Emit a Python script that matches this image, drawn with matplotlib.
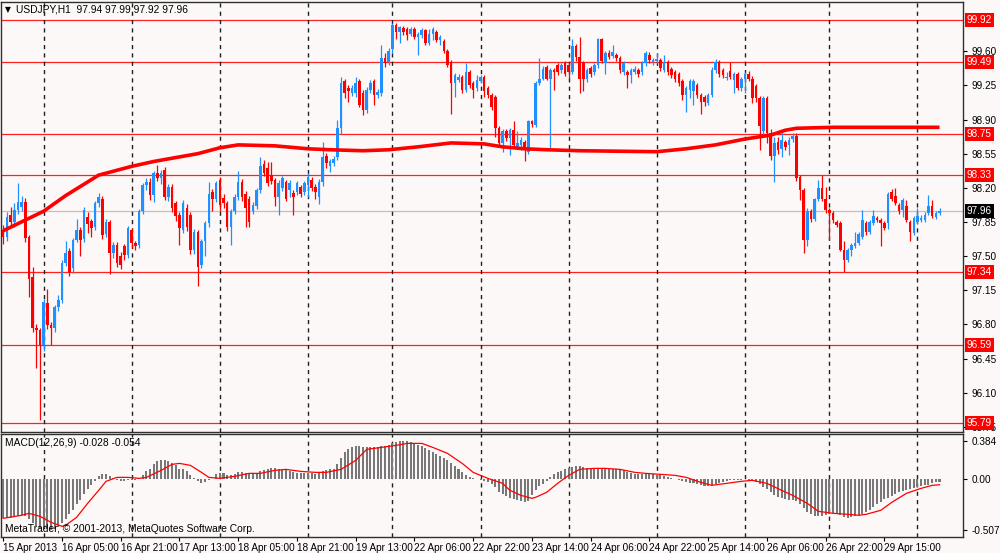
import numpy as np
import matplotlib.pyplot as plt
from matplotlib.transforms import blended_transform_factory, Bbox

plt.rcParams["font.family"] = ["Liberation Sans", "DejaVu Sans"]

# USDJPY H1 candles, bar 0 = 15 Apr 2013 13:00
opens = [
    97.77, 97.70, 97.92, 97.85, 97.97, 98.00, 98.05, 97.70, 97.29, 96.76,
    96.74, 96.59, 97.02, 96.79, 96.76, 96.98, 97.05, 97.43, 97.55, 97.38,
    97.67, 97.77, 97.68, 97.90, 97.86, 97.80, 98.04, 98.09, 97.73, 97.85,
    97.53, 97.61, 97.50, 97.60, 97.51, 97.77, 97.63, 97.61, 97.96, 98.23,
    98.26, 98.13, 98.35, 98.30, 98.38, 98.11, 98.21, 98.04, 97.92, 97.77,
    97.99, 97.92, 97.56, 97.75, 97.41, 97.65, 97.84, 98.16, 98.09, 98.28,
    98.10, 98.04, 97.80, 97.96, 98.11, 98.26, 98.14, 98.09, 97.96, 98.01,
    98.18, 98.44, 98.40, 98.33, 98.28, 98.11, 98.20, 98.26, 98.18, 98.15,
    98.16, 98.21, 98.16, 98.23, 98.28, 98.21, 98.11, 98.26, 98.53, 98.42,
    98.45, 98.52, 98.81, 99.29, 99.22, 99.17, 99.17, 99.29, 99.17, 99.00,
    99.20, 99.29, 99.15, 99.17, 99.53, 99.49, 99.62, 99.87, 99.80, 99.84,
    99.83, 99.78, 99.83, 99.75, 99.77, 99.82, 99.68, 99.78, 99.80, 99.71,
    99.70, 99.60, 99.49, 99.27, 99.30, 99.34, 99.20, 99.39, 99.27, 99.22,
    99.29, 99.34, 99.22, 99.15, 99.13, 98.81, 98.66, 98.78, 98.71, 98.79,
    98.62, 98.64, 98.67, 98.57, 98.88, 98.84, 99.27, 99.32, 99.44, 99.32,
    99.41, 99.46, 99.41, 99.48, 99.46, 99.39, 99.65, 99.54, 99.48, 99.31,
    99.43, 99.39, 99.46, 99.72, 99.48, 99.58, 99.55, 99.56, 99.53, 99.39,
    99.39, 99.36, 99.39, 99.41, 99.39, 99.48, 99.56, 99.49, 99.50, 99.51,
    99.41, 99.49, 99.42, 99.39, 99.37, 99.29, 99.15, 99.20, 99.19, 99.25,
    99.15, 99.13, 99.07, 99.15, 99.41, 99.49, 99.41, 99.33, 99.40, 99.30,
    99.37, 99.22, 99.32, 99.37, 99.32, 99.24, 99.12, 98.78, 99.12, 98.76,
    98.53, 98.67, 98.60, 98.67, 98.64, 98.70, 98.73, 98.31, 98.18, 97.67,
    97.96, 97.88, 98.09, 98.20, 98.09, 97.97, 97.94, 97.85, 97.84, 97.56,
    97.46, 97.56, 97.60, 97.63, 97.70, 97.84, 97.75, 97.84, 97.89, 97.87,
    97.84, 97.84, 98.16, 98.12, 98.02, 97.97, 98.01, 97.85, 97.74, 97.85,
    97.87, 97.87, 97.94, 98.01, 97.90, 97.94,
]
highs = [
    97.82, 97.95, 98.00, 98.04, 98.25, 98.12, 98.10, 97.72, 97.39, 96.80,
    96.76, 97.06, 97.16, 96.83, 97.00, 97.10, 97.46, 97.65, 97.58, 97.69,
    97.88, 97.80, 98.00, 97.95, 97.88, 98.07, 98.15, 98.12, 97.88, 97.87,
    97.64, 97.64, 97.54, 97.62, 97.81, 97.79, 97.66, 97.98, 98.25, 98.30,
    98.30, 98.37, 98.43, 98.38, 98.41, 98.24, 98.24, 98.06, 97.95, 98.08,
    98.03, 97.95, 97.78, 97.77, 97.68, 97.86, 98.26, 98.19, 98.27, 98.31,
    98.14, 98.06, 97.98, 98.14, 98.37, 98.29, 98.17, 98.12, 98.05, 98.20,
    98.52, 98.49, 98.46, 98.46, 98.30, 98.28, 98.32, 98.28, 98.28, 98.18,
    98.27, 98.23, 98.27, 98.35, 98.31, 98.24, 98.29, 98.67, 98.56, 98.50,
    98.53, 98.90, 99.34, 99.32, 99.25, 99.25, 99.34, 99.31, 99.20, 99.23,
    99.30, 99.31, 99.21, 99.66, 99.58, 99.63, 99.89, 99.89, 99.86, 99.86,
    99.85, 99.85, 99.85, 99.80, 99.84, 99.83, 99.83, 99.85, 99.82, 99.77,
    99.72, 99.62, 99.51, 99.38, 99.37, 99.36, 99.48, 99.41, 99.29, 99.36,
    99.36, 99.36, 99.24, 99.17, 99.15, 98.83, 98.80, 98.80, 98.81, 98.88,
    98.78, 98.72, 98.69, 98.90, 98.90, 99.29, 99.53, 99.45, 99.46, 99.43,
    99.43, 99.48, 99.48, 99.50, 99.48, 99.73, 99.67, 99.75, 99.50, 99.43,
    99.45, 99.48, 99.74, 99.74, 99.60, 99.61, 99.66, 99.58, 99.55, 99.50,
    99.41, 99.43, 99.45, 99.43, 99.50, 99.60, 99.59, 99.53, 99.58, 99.53,
    99.56, 99.51, 99.44, 99.41, 99.39, 99.31, 99.24, 99.32, 99.31, 99.27,
    99.17, 99.15, 99.17, 99.44, 99.52, 99.51, 99.43, 99.39, 99.49, 99.39,
    99.39, 99.34, 99.39, 99.40, 99.35, 99.26, 99.14, 99.14, 99.14, 98.80,
    98.72, 98.72, 98.79, 98.69, 98.72, 98.76, 98.76, 98.33, 98.20, 97.99,
    97.98, 98.10, 98.28, 98.33, 98.21, 97.99, 97.96, 97.87, 97.86, 97.65,
    97.58, 97.63, 97.75, 97.75, 97.97, 97.86, 97.87, 97.97, 97.91, 97.89,
    97.86, 98.16, 98.19, 98.20, 98.04, 98.10, 98.08, 97.87, 97.91, 97.99,
    97.92, 97.95, 98.13, 98.08, 97.96, 97.99,
]
lows = [
    97.62, 97.66, 97.80, 97.80, 97.93, 97.96, 97.64, 97.08, 96.72, 96.35,
    95.82, 96.53, 96.75, 96.59, 96.72, 96.94, 97.02, 97.40, 97.30, 97.33,
    97.64, 97.50, 97.64, 97.74, 97.70, 97.77, 98.00, 97.68, 97.70, 97.32,
    97.48, 97.39, 97.37, 97.46, 97.48, 97.58, 97.56, 97.58, 97.93, 98.18,
    98.08, 98.05, 98.27, 98.24, 98.08, 98.06, 97.95, 97.86, 97.61, 97.74,
    97.76, 97.52, 97.52, 97.19, 97.38, 97.50, 97.80, 97.96, 98.05, 97.96,
    97.99, 97.76, 97.61, 97.93, 98.08, 98.07, 97.80, 97.80, 97.93, 97.98,
    98.15, 98.32, 98.22, 98.24, 98.01, 97.92, 98.17, 98.06, 98.11, 97.92,
    98.13, 98.11, 98.13, 98.11, 98.17, 98.09, 98.03, 98.22, 98.40, 98.36,
    98.42, 98.49, 98.75, 99.12, 99.08, 99.14, 99.13, 99.03, 98.95, 98.97,
    99.17, 99.05, 99.12, 99.14, 99.44, 99.46, 99.58, 99.73, 99.68, 99.77,
    99.71, 99.76, 99.72, 99.56, 99.74, 99.66, 99.66, 99.71, 99.69, 99.66,
    99.58, 99.44, 98.96, 99.13, 99.28, 99.17, 99.18, 99.22, 99.12, 99.19,
    99.27, 99.13, 99.12, 99.00, 98.72, 98.63, 98.57, 98.68, 98.54, 98.62,
    98.60, 98.59, 98.47, 98.55, 98.82, 98.82, 99.25, 99.30, 99.30, 98.61,
    99.20, 99.36, 99.38, 99.35, 99.32, 99.37, 99.50, 99.17, 99.19, 99.28,
    99.34, 99.36, 99.43, 99.48, 99.37, 99.52, 99.53, 99.50, 99.38, 99.36,
    99.22, 99.27, 99.37, 99.34, 99.36, 99.45, 99.48, 99.46, 99.48, 99.40,
    99.39, 99.36, 99.33, 99.28, 99.24, 99.10, 98.98, 99.12, 99.05, 99.12,
    98.96, 99.04, 99.05, 99.13, 99.38, 99.34, 99.33, 99.30, 99.31, 99.17,
    99.20, 99.19, 99.17, 99.29, 99.07, 99.08, 98.59, 98.75, 98.66, 98.48,
    98.26, 98.55, 98.52, 98.59, 98.54, 98.67, 98.27, 98.08, 97.53, 97.60,
    97.85, 97.86, 98.06, 98.06, 97.94, 97.67, 97.84, 97.80, 97.55, 97.34,
    97.44, 97.50, 97.58, 97.61, 97.68, 97.72, 97.73, 97.82, 97.85, 97.60,
    97.77, 97.78, 98.06, 98.02, 97.93, 97.90, 97.85, 97.65, 97.72, 97.83,
    97.85, 97.85, 97.92, 97.89, 97.88, 97.92,
]
closes = [
    97.70, 97.90, 97.85, 97.97, 98.05, 98.05, 97.69, 97.27, 96.76, 96.74,
    96.59, 97.03, 96.79, 96.76, 96.98, 97.05, 97.43, 97.53, 97.34, 97.67,
    97.77, 97.67, 97.97, 97.83, 97.79, 98.04, 98.11, 97.72, 97.85, 97.53,
    97.61, 97.43, 97.41, 97.51, 97.79, 97.63, 97.60, 97.96, 98.23, 98.26,
    98.13, 98.35, 98.30, 98.35, 98.11, 98.21, 97.99, 97.91, 97.79, 98.04,
    97.80, 97.56, 97.75, 97.39, 97.65, 97.84, 98.14, 98.09, 98.25, 98.02,
    98.04, 97.80, 97.96, 98.11, 98.26, 98.11, 97.99, 97.85, 98.02, 98.18,
    98.42, 98.35, 98.25, 98.27, 98.11, 98.25, 98.30, 98.09, 98.25, 98.11,
    98.25, 98.14, 98.25, 98.31, 98.20, 98.16, 98.26, 98.52, 98.45, 98.47,
    98.50, 98.81, 99.27, 99.17, 99.19, 99.22, 99.27, 99.05, 99.00, 99.20,
    99.27, 99.15, 99.18, 99.53, 99.48, 99.60, 99.87, 99.80, 99.85, 99.80,
    99.77, 99.83, 99.75, 99.78, 99.82, 99.68, 99.78, 99.83, 99.71, 99.75,
    99.60, 99.46, 99.27, 99.36, 99.34, 99.20, 99.39, 99.25, 99.20, 99.30,
    99.34, 99.19, 99.15, 99.03, 98.81, 98.66, 98.78, 98.71, 98.79, 98.64,
    98.66, 98.69, 98.59, 98.88, 98.85, 99.27, 99.32, 99.42, 99.32, 99.41,
    99.39, 99.39, 99.46, 99.37, 99.39, 99.65, 99.54, 99.32, 99.31, 99.41,
    99.37, 99.46, 99.72, 99.50, 99.58, 99.54, 99.59, 99.53, 99.41, 99.48,
    99.36, 99.41, 99.42, 99.37, 99.48, 99.58, 99.51, 99.51, 99.52, 99.43,
    99.49, 99.39, 99.36, 99.31, 99.27, 99.15, 99.22, 99.29, 99.29, 99.15,
    99.08, 99.08, 99.15, 99.41, 99.49, 99.37, 99.36, 99.34, 99.34, 99.37,
    99.22, 99.32, 99.37, 99.32, 99.12, 99.12, 98.83, 99.12, 98.76, 98.53,
    98.66, 98.59, 98.69, 98.62, 98.69, 98.73, 98.30, 98.18, 97.67, 97.96,
    97.88, 98.09, 98.20, 98.09, 97.97, 97.94, 97.87, 97.82, 97.56, 97.46,
    97.56, 97.61, 97.63, 97.73, 97.87, 97.75, 97.85, 97.91, 97.87, 97.84,
    97.79, 98.14, 98.09, 98.04, 97.96, 98.08, 97.87, 97.75, 97.89, 97.91,
    97.89, 97.92, 98.01, 97.91, 97.94, 97.96,
]

# moving average (thick red line), sampled at bar indices
ma_idx = [0, 11, 17, 26, 29, 35, 41, 53, 59, 64, 74, 83, 89, 98, 105, 113,
          122, 131, 136, 142, 148, 157, 178, 186, 194, 202, 209, 213, 216,
          226, 242, 255]
ma_val = [97.76, 97.96, 98.12, 98.33, 98.36, 98.42, 98.47, 98.55, 98.61,
          98.64, 98.63, 98.60, 98.59, 98.58, 98.59, 98.62, 98.66, 98.65,
          98.62, 98.60, 98.59, 98.58, 98.57, 98.60, 98.64, 98.70, 98.74,
          98.79, 98.81, 98.82, 98.82, 98.82]

# MACD(12,26,9) main histogram, one value per bar
macd = [
    -0.39, -0.39, -0.39, -0.38, -0.37, -0.36, -0.37, -0.40, -0.44, -0.47,
    -0.49, -0.49, -0.50, -0.507, -0.50, -0.48, -0.44, -0.40, -0.35, -0.31,
    -0.25, -0.21, -0.15, -0.10, -0.06, -0.02, 0.03, 0.05, 0.05, 0.03,
    0.01, -0.01, -0.02, -0.02, -0.01, -0.01, -0.005, 0.01, 0.04, 0.08,
    0.10, 0.15, 0.18, 0.19, 0.19, 0.18, 0.16, 0.14, 0.10, 0.10,
    0.08, 0.04, 0.01, -0.02, -0.04, -0.03, -0.01, 0.005, 0.05, 0.06,
    0.06, 0.04, 0.04, 0.05, 0.07, 0.07, 0.06, 0.05, 0.06, 0.06,
    0.08, 0.09, 0.10, 0.11, 0.11, 0.10, 0.10, 0.09, 0.08, 0.07,
    0.06, 0.06, 0.06, 0.06, 0.06, 0.05, 0.06, 0.08, 0.09, 0.10,
    0.10, 0.15, 0.21, 0.27, 0.30, 0.32, 0.33, 0.33, 0.32, 0.32,
    0.32, 0.32, 0.32, 0.33, 0.33, 0.34, 0.36, 0.37, 0.384, 0.38,
    0.38, 0.37, 0.36, 0.34, 0.33, 0.31, 0.29, 0.27, 0.25, 0.23,
    0.21, 0.19, 0.16, 0.13, 0.10, 0.07, 0.04, 0.02, 0.01, 0.005,
    -0.01, -0.02, -0.03, -0.05, -0.08, -0.13, -0.15, -0.17, -0.19, -0.20,
    -0.21, -0.22, -0.23, -0.22, -0.16, -0.11, -0.07, -0.05, -0.02, 0.02,
    0.05, 0.07, 0.08, 0.10, 0.11, 0.12, 0.13, 0.13, 0.12, 0.11,
    0.10, 0.10, 0.11, 0.10, 0.10, 0.10, 0.10, 0.10, 0.10, 0.09,
    0.07, 0.06, 0.05, 0.05, 0.05, 0.05, 0.05, 0.05, 0.04, 0.04,
    0.03, 0.02, 0.01, 0.005, -0.01, -0.02, -0.03, -0.04, -0.04, -0.05,
    -0.06, -0.07, -0.07, -0.06, -0.05, -0.04, -0.03, -0.02, -0.01, -0.005,
    -0.01, -0.005, 0.005, -0.005, -0.01, -0.03, -0.05, -0.08, -0.10, -0.13,
    -0.16, -0.18, -0.19, -0.20, -0.21, -0.21, -0.22, -0.25, -0.29, -0.33,
    -0.35, -0.37, -0.37, -0.37, -0.36, -0.35, -0.34, -0.35, -0.36, -0.38,
    -0.39, -0.38, -0.37, -0.36, -0.35, -0.33, -0.31, -0.28, -0.25, -0.23,
    -0.20, -0.19, -0.17, -0.15, -0.13, -0.12, -0.11, -0.10, -0.09, -0.08,
    -0.07, -0.06, -0.06, -0.04, -0.03, -0.028,
]
# signal line, sampled at bar indices
sig_idx = [0, 5, 7, 10, 13, 16, 17, 20, 23, 26, 28, 31, 34, 37, 39, 43, 46,
           48, 51, 54, 56, 59, 63, 67, 70, 74, 77, 81, 85, 88, 92, 96, 99,
           103, 107, 110, 114, 117, 121, 125, 128, 132, 136, 138, 141, 144,
           145, 148, 151, 154, 157, 161, 164, 168, 172, 175, 179, 183, 186,
           190, 193, 197, 201, 204, 208, 212, 215, 219, 222, 226, 230, 233,
           235, 239, 242, 246, 250, 253, 255]
sig_val = [-0.39, -0.36, -0.34, -0.37, -0.43, -0.47, -0.46, -0.38, -0.24,
           -0.11, -0.02, 0.02, 0.02, 0.01, 0.02, 0.09, 0.15, 0.16, 0.14,
           0.07, 0.02, 0.01, 0.03, 0.06, 0.06, 0.09, 0.10, 0.08, 0.07,
           0.07, 0.10, 0.19, 0.30, 0.32, 0.34, 0.36, 0.36, 0.32, 0.26,
           0.16, 0.07, 0.01, -0.04, -0.11, -0.16, -0.19, -0.18, -0.13,
           -0.04, 0.04, 0.10, 0.11, 0.11, 0.10, 0.07, 0.06, 0.05, 0.04,
           0.02, -0.03, -0.06, -0.04, -0.02, -0.01, -0.04, -0.11, -0.16,
           -0.24, -0.32, -0.34, -0.35, -0.36, -0.35, -0.31, -0.23, -0.14,
           -0.09, -0.06, -0.054]

levels = [99.92, 99.49, 98.75, 98.33, 97.34, 96.59, 95.79]
bid = 97.96
price_ticks = [95.75, 96.10, 96.45, 96.80, 97.15, 97.50, 97.85, 98.20,
               98.55, 98.90, 99.25, 99.60]
macd_ticks = [0.384, 0.0, -0.507]
macd_tick_labels = ["0.384", "0.00", "-0.507"]
day_starts = [11, 35, 59, 83, 106, 130, 154, 178, 202, 225, 249]
time_labels = ["15 Apr 2013", "16 Apr 05:00", "16 Apr 21:00", "17 Apr 13:00",
               "18 Apr 05:00", "18 Apr 21:00", "19 Apr 13:00", "22 Apr 06:00",
               "22 Apr 22:00", "23 Apr 14:00", "24 Apr 06:00", "24 Apr 22:00",
               "25 Apr 14:00", "26 Apr 06:00", "26 Apr 22:00", "29 Apr 15:00"]

bg = "#FDF8F8"
bull = "#1E90FF"
bear = "#FF0000"
W, H = 1000, 553
fs = 6.6

fig = plt.figure(figsize=(10, 5.53), dpi=100, facecolor=bg)
ax = fig.add_axes([1 / W, 1 - 432 / H, 962 / W, 430 / H], facecolor=bg)
ax2 = fig.add_axes([1 / W, 1 - 537 / H, 962 / W, 103 / H], facecolor=bg,
                   sharex=ax)

o = np.array(opens)
h = np.array(highs)
l = np.array(lows)
c = np.array(closes)
x = np.arange(len(c))
cols = np.where(c >= o, bull, bear)

# support / resistance levels and bid line
for lv in levels:
    ax.axhline(lv, color="#FF2020", lw=0.9, zorder=1)
ax.axhline(bid, color="#C0C0C0", lw=0.9, zorder=1)

for d in day_starts:
    for a in (ax, ax2):
        a.axvline(d, color="#202020", lw=1.0, ls=(0, (3, 3)), zorder=1)

# candles
ax.vlines(x, l, h, colors=cols, lw=0.9, zorder=3)
body = np.maximum(np.abs(c - o), 0.008)
ax.bar(x, body, bottom=np.minimum(o, c), width=0.7, color=cols,
       linewidth=0, zorder=4)

ax.plot(ma_idx, ma_val, color="#FF0000", lw=2.6, zorder=5,
        solid_capstyle="butt")

ax.set_xlim(-0.6, 261.4)
ax.set_ylim(95.698, 100.104)
ax.yaxis.tick_right()
ax.set_yticks(price_ticks)
ax.set_yticklabels([f"{t:.2f}" for t in price_ticks])
ax.tick_params(axis="y", labelsize=fs + 0.6, length=3, pad=3, colors="black")
ax.tick_params(axis="x", bottom=False, labelbottom=False)

tr = blended_transform_factory(ax.transAxes, ax.transData)
for lv in levels:
    ax.text(1.004, lv, f"{lv:.2f}", transform=tr, ha="left", va="center",
            fontsize=fs + 0.6, color="white", zorder=10, clip_on=False,
            bbox=dict(boxstyle="square,pad=0.2", fc="#FF0000", ec="none"))
ax.text(1.004, bid, f"{bid:.2f}", transform=tr, ha="left", va="center",
        fontsize=fs + 0.6, color="white", zorder=10, clip_on=False,
        bbox=dict(boxstyle="square,pad=0.2", fc="black", ec="none"))

# MACD panel
ax2.bar(x, macd, width=0.55, color="#787878", linewidth=0, zorder=3)
ax2.plot(sig_idx, sig_val, color="#FF0000", lw=0.9, zorder=4)
ax2.set_ylim(-0.577, 0.454)
ax2.yaxis.tick_right()
ax2.set_yticks(macd_ticks)
ax2.set_yticklabels(macd_tick_labels)
ax2.tick_params(axis="y", labelsize=fs + 0.6, length=3, pad=3)
ax2.set_xticks(np.arange(0, 16 * len(time_labels), 16))
ax2.set_xticklabels(time_labels, ha="left")
ax2.tick_params(axis="x", labelsize=fs + 0.6, length=3, pad=1)

for a in (ax, ax2):
    for s in a.spines.values():
        s.set_color("#303030")
        s.set_linewidth(1.0)

# the lowest price label is cut by the indicator window, as in the terminal
fig.canvas.draw()
clip = Bbox.from_extents(0, 1 - 432 / H, 1, 1)
clip = clip.transformed(fig.transFigure)
for lab in ax.get_yticklabels():
    lab.set_clip_box(clip)
    lab.set_clip_on(True)

fig.text(5 / W, 1 - 10 / H, "\u25bc", fontsize=5.5, va="center", ha="left",
         family="DejaVu Sans")
fig.text(16 / W, 1 - 10 / H, "USDJPY,H1  97.94 97.99 97.92 97.96",
         fontsize=fs + 0.8, va="center", ha="left")
fig.text(5 / W, 1 - 443 / H, "MACD(12,26,9) -0.028 -0.054",
         fontsize=fs + 0.8, va="center", ha="left")
fig.text(5 / W, 1 - 529 / H,
         "MetaTrader, \u00a9 2001-2013, MetaQuotes Software Corp.",
         fontsize=fs + 0.8, va="center", ha="left")

fig.savefig("out.png", dpi=100, facecolor=bg)
plt.close(fig)
